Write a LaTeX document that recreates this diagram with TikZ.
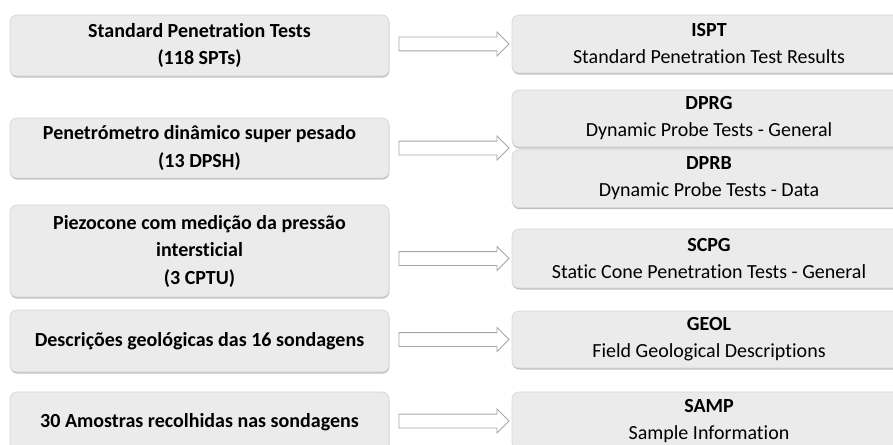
\documentclass[tikz,border=0pt]{standalone}
\usepackage{fontspec}
\setmainfont{Carlito}[Ligatures=NoCommon]
\usetikzlibrary{positioning,shapes.arrows,shadows}

\definecolor{boxfill}{HTML}{EBEBEB}
\definecolor{boxline}{HTML}{D4D4D4}
\definecolor{arrowline}{HTML}{A6A6A6}

\tikzset{
  testbox/.style={draw=boxline, line width=0.6pt, fill=boxfill, rounded corners=7pt,
    drop shadow={shadow xshift=0.4pt, shadow yshift=-1.6pt, fill=black!45, opacity=0.55},
    inner sep=0pt, align=center, font=\fontsize{20}{27}\selectfont},
  srcbox/.style={testbox, minimum width=379pt, font=\fontsize{20}{27.5}\selectfont\bfseries},
  tablebox/.style={testbox, minimum width=394pt},
  flowarrow/.style={single arrow, draw=arrowline, line width=0.8pt, fill=white,
    inner xsep=0pt, inner ysep=6.5pt, minimum height=110pt, single arrow head extend=5pt,
    single arrow tip angle=90}
}

\begin{document}
\begin{tikzpicture}[x=1pt, y=1pt]
  \useasboundingbox (0,0) rectangle (893,-444);
  \clip (0,0) rectangle (893,-444);

  % Ensaios de campo
  \node[srcbox, minimum height=61pt] (l1) at (199.5,-45.5) {Standard Penetration Tests\\(118 SPTs)};
  \node[srcbox, minimum height=60pt] (l2) at (199.5,-148) {Penetrómetro dinâmico super pesado\\(13 DPSH)};
  \node[srcbox, minimum height=92pt] (l3) at (199.5,-251) {Piezocone com medição da pressão\\intersticial\\(3 CPTU)};
  \node[srcbox, minimum height=62pt] (l4) at (199.5,-341) {Descrições geológicas das 16 sondagens};
  \node[srcbox, minimum height=60pt] (l5) at (199.5,-422) {30 Amostras recolhidas nas sondagens};

  % Tabelas AGS
  \node[tablebox, minimum height=58pt] (r1) at (709,-44) {\textbf{ISPT}\\Standard Penetration Test Results};
  \node[tablebox, minimum height=57pt] (r2) at (709,-118.5) {\textbf{DPRG}\\Dynamic Probe Tests - General};
  \node[tablebox, minimum height=58pt, below=2pt of r2] (r3) {\textbf{DPRB}\\Dynamic Probe Tests - Data};
  \node[tablebox, minimum height=59pt] (r4) at (709,-258.5) {\textbf{SCPG}\\Static Cone Penetration Tests - General};
  \node[tablebox, minimum height=57pt] (r5) at (709,-339.5) {\textbf{GEOL}\\Field Geological Descriptions};
  \node[tablebox, minimum height=58pt] (r6) at (709,-421) {\textbf{SAMP}\\Sample Information};

  % Setas
  \path (l1.east |- r1) -- node[flowarrow] (a1) {} (r1.west);
  \path (l2.east) -- node[flowarrow] (a2) {} (l2.east -| r2.west);
  \path (l3.east |- r4) -- node[flowarrow] (a3) {} (r4.west);
  \path (l4.east |- r5) -- node[flowarrow] (a4) {} (r5.west);
  \path (l5.east |- r6) -- node[flowarrow] (a5) {} (r6.west);
\end{tikzpicture}
\end{document}
